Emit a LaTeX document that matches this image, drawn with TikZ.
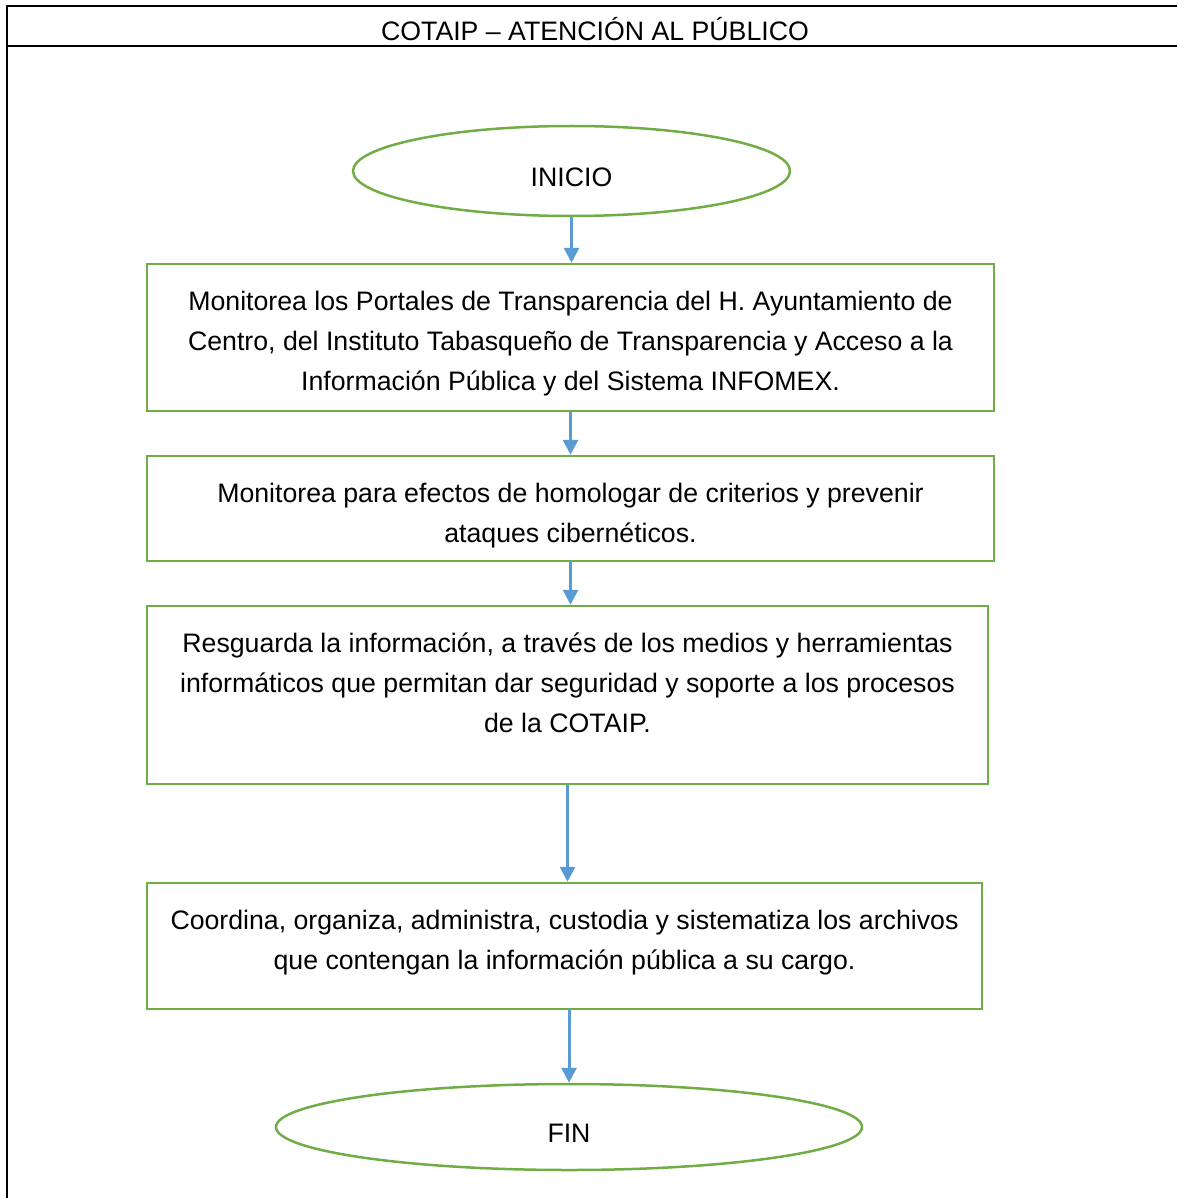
\documentclass[tikz,border=0pt]{standalone}
\usepackage{fontspec}
\setmainfont{Liberation Sans}
\usetikzlibrary{shapes.geometric,arrows.meta}
\definecolor{boxgreen}{HTML}{70AD47}
\definecolor{flowblue}{HTML}{5B9BD5}

\begin{document}
\begin{tikzpicture}[x=0.5pt,y=-0.5pt,
    every node/.style={font=\fontsize{13.35}{20}\selectfont, align=center},
    stepbox/.style={draw=boxgreen, line width=1.25pt, rectangle, inner sep=0pt},
    terminal/.style={draw=boxgreen, line width=1.25pt, ellipse, inner sep=0pt,
      text height=15.6pt, text depth=0pt},
    flow/.style={draw=flowblue, line width=1.5pt, -{Triangle[width=7.5pt,length=7.5pt]}}]
  \useasboundingbox (0,0) rectangle (1177,1198);
  % Frame.
  \draw[line width=1pt] (1177,6) -- (7,6) -- (7,1198);
  \draw[line width=1pt] (7,46) -- (1177,46);
  \node (title) at (595,29) {COTAIP -- ATENCIÓN AL PÚBLICO};
  % Steps.
  \node[terminal, minimum width=218.5pt, minimum height=45pt] (inicio) at (571.5,171) {INICIO};
  \node[stepbox, minimum width=423.5pt, minimum height=73.5pt] (monitorea) at (570.5,337.5)
    {\rule{0pt}{16pt}Monitorea los Portales de Transparencia del H. Ayuntamiento de\\
     Centro, del Instituto Tabasqueño de Transparencia y Acceso a la\\
     Información Pública y del Sistema INFOMEX.};
  \node[stepbox, minimum width=423.5pt, minimum height=52.5pt] (homologar) at (570.5,508.5)
    {\rule{0pt}{17pt}Monitorea para efectos de homologar de criterios y prevenir\\
     ataques cibernéticos.};
  \node[stepbox, minimum width=420.5pt, minimum height=89pt] (resguarda) at (567.5,695)
    {Resguarda la información, a través de los medios y herramientas\\
     informáticos que permitan dar seguridad y soporte a los procesos\\
     de la COTAIP.\\[-8pt]\mbox{}};
  \node[stepbox, minimum width=417.5pt, minimum height=63pt] (coordina) at (564.5,946)
    {Coordina, organiza, administra, custodia y sistematiza los archivos\\
     que contengan la información pública a su cargo.\rule[-6pt]{0pt}{6pt}};
  \node[terminal, minimum width=293pt, minimum height=43pt] (fin) at (569,1127) {FIN};
  % Arrows.
  \draw[flow] (inicio.south) -- (inicio.south |- monitorea.north);
  \draw[flow] (monitorea.south) -- (monitorea.south |- homologar.north);
  \draw[flow] (homologar.south) -- (homologar.south |- resguarda.north);
  \draw[flow] (resguarda.south) -- (resguarda.south |- coordina.north);
  \draw[flow] (fin.north |- coordina.south) -- (fin.north);
\end{tikzpicture}
\end{document}
